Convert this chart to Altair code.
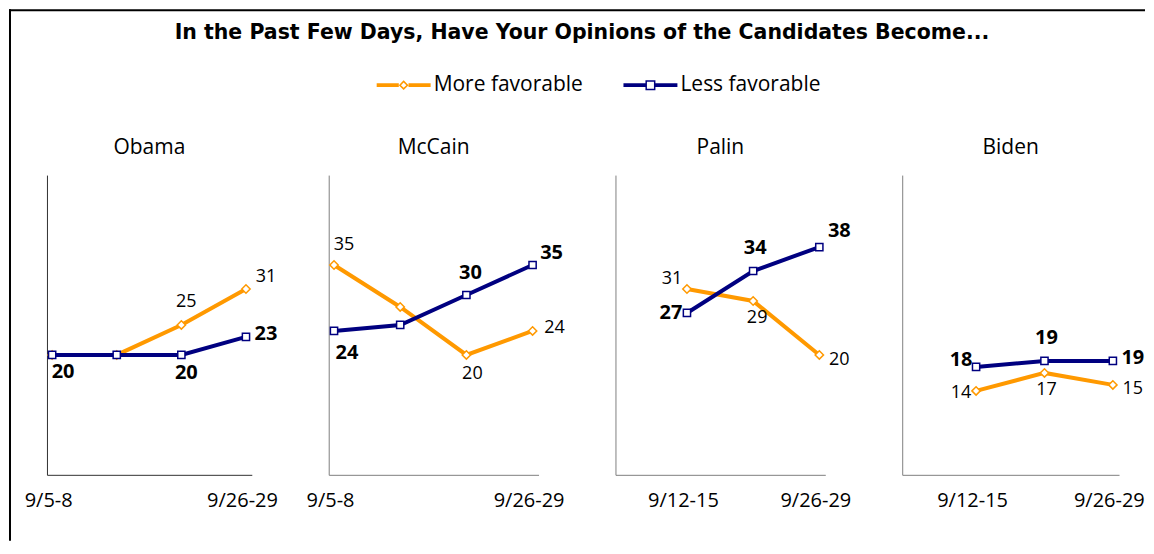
import altair as alt
import pandas as pd

# ---------------- data ----------------
candidates = ["Obama", "McCain", "Palin", "Biden"]
series_names = ["More favorable", "Less favorable"]
periods = [0, 1, 2, 3]
period_labels = {0: "9/5-8", 1: "9/12-15", 3: "9/26-29"}
labelled_ticks = {"Obama": [0, 3], "McCain": [0, 3], "Palin": [1, 3], "Biden": [1, 3]}

more_favorable = {
    "Obama": [20, 20, 25, 31],
    "McCain": [35, 28, 20, 24],
    "Palin": [None, 31, 29, 20],
    "Biden": [None, 14, 17, 15],
}
less_favorable = {
    "Obama": [20, 20, 20, 23],
    "McCain": [24, 25, 30, 35],
    "Palin": [None, 27, 34, 38],
    "Biden": [None, 18, 19, 19],
}

# ---------------- style ----------------
ORANGE = "#FF9900"
NAVY = "#000080"
FONT = "Open Sans"
PANEL_WIDTHS = {"Obama": 205, "McCain": 210, "Palin": 210, "Biden": 217}

# pixel offsets of the value labels (absent -> no label)
LABEL_OFFSETS = {
    ("Obama", "Less favorable", 0): (11, 17),
    ("Obama", "Less favorable", 2): (5, 18),
    ("Obama", "Less favorable", 3): (20, -3),
    ("Obama", "More favorable", 2): (5, -23),
    ("Obama", "More favorable", 3): (20, -12),
    ("McCain", "More favorable", 0): (10, -20),
    ("McCain", "More favorable", 2): (6, 19),
    ("McCain", "More favorable", 3): (22, -3),
    ("McCain", "Less favorable", 0): (13, 22),
    ("McCain", "Less favorable", 2): (4, -22),
    ("McCain", "Less favorable", 3): (19, -12),
    ("Palin", "More favorable", 1): (-15, -10),
    ("Palin", "More favorable", 2): (4, 17),
    ("Palin", "More favorable", 3): (20, 5),
    ("Palin", "Less favorable", 1): (-16, 0),
    ("Palin", "Less favorable", 2): (2, -23),
    ("Palin", "Less favorable", 3): (20, -16),
    ("Biden", "Less favorable", 1): (-15, -7),
    ("Biden", "Less favorable", 2): (2, -23),
    ("Biden", "Less favorable", 3): (20, -3),
    ("Biden", "More favorable", 1): (-15, 2),
    ("Biden", "More favorable", 2): (2, 17),
    ("Biden", "More favorable", 3): (20, 4),
}

rows = []
for cand in candidates:
    for sname, table in (("More favorable", more_favorable), ("Less favorable", less_favorable)):
        for p, v in zip(periods, table[cand]):
            if v is None:
                continue
            off = LABEL_OFFSETS.get((cand, sname, p))
            rows.append({
                "candidate": cand, "series": sname, "period": p, "value": v,
                "label": str(v) if off else "",
                "dx": off[0] if off else 0, "dy": off[1] if off else 0,
            })
df = pd.DataFrame(rows)

label_expr = " : ".join(
    f"datum.value == {k} ? '{v}'" for k, v in period_labels.items()
) + " : ''"

SERIES_STYLE = {
    "More favorable": dict(color=ORANGE, shape="diamond", size=70, fsize=18, fweight="normal"),
    "Less favorable": dict(color=NAVY, shape="square", size=52, fsize=20, fweight="bold"),
}


def make_panel(cand):
    d = df[df["candidate"] == cand]
    axis_col = "#303030" if cand == "Obama" else "#808080"
    base = alt.Chart(d).encode(
        x=alt.X("period:Q",
                scale=alt.Scale(domain=[-0.08, 3.09], nice=False, zero=False),
                axis=alt.Axis(values=labelled_ticks[cand], labelExpr=label_expr, title=None,
                              grid=False, ticks=False, tickSize=0, domainColor=axis_col,
                              labelPadding=32, labelBaseline="alphabetic", labelFlush=False,
                              labelOverlap=False, labelFont=FONT, labelFontSize=20,
                              labelColor="black", labelOffset=-4)),
        y=alt.Y("value:Q",
                scale=alt.Scale(domain=[0, 50], nice=False, zero=False),
                axis=alt.Axis(labels=False, ticks=False, tickSize=0, grid=False, title=None,
                              domainColor=axis_col)),
    )
    layers = []
    for s in series_names:
        st = SERIES_STYLE[s]
        sub = base.transform_filter(alt.datum.series == s)
        layers.append(sub.mark_line(color=st["color"], strokeWidth=4))
        layers.append(sub.mark_point(shape=st["shape"], filled=True, fill="white",
                                     stroke=st["color"], strokeWidth=1.5, size=st["size"],
                                     opacity=1))
    for s in series_names:
        st = SERIES_STYLE[s]
        sub = base.transform_filter((alt.datum.series == s) & (alt.datum.label != ""))
        layers.append(sub.mark_text(font=FONT, fontSize=st["fsize"], fontWeight=st["fweight"],
                                    color="black", align="center", baseline="middle",
                                    dx={"expr": "datum.dx"}, dy={"expr": "datum.dy"}).encode(
            text="label:N",
        ))
    return alt.layer(*layers).properties(
        width=PANEL_WIDTHS[cand], height=300,
        title=alt.TitleParams(cand, font=FONT, fontSize=21, fontWeight="normal", color="black",
                              anchor="middle", frame="group", offset=0, baseline="alphabetic"),
    )


# legend symbols: line with a hollow marker
PATH_MORE = ("M-1,-0.07L-0.18,-0.07L-0.18,0.07L-1,0.07Z "
             "M0.18,-0.07L1,-0.07L1,0.07L0.18,0.07Z "
             "M0,-0.18L0.18,0L0,0.18L-0.18,0Z M0,-0.1L-0.1,0L0,0.1L0.1,0Z")
PATH_LESS = ("M-1,-0.07L-0.185,-0.07L-0.185,0.07L-1,0.07Z "
             "M0.185,-0.07L1,-0.07L1,0.07L0.185,0.07Z "
             "M-0.185,-0.185L0.185,-0.185L0.185,0.185L-0.185,0.185Z "
             "M-0.13,-0.13L-0.13,0.13L0.13,0.13L0.13,-0.13Z")

legend_params = dict(title=None, orient="none", legendX=331, legendY=-117,
                     direction="horizontal", symbolSize=2916, symbolStrokeWidth=0,
                     symbolOpacity=1, labelFont=FONT, labelFontSize=21, labelColor="black",
                     labelOffset=3, columnPadding=40, padding=0, labelLimit=400)

frame_df = pd.DataFrame({"k": [0]})
top_rule = alt.Chart(frame_df).mark_rule(color="black", strokeWidth=2).encode(
    x=alt.value(-37), x2=alt.value(1100), y=alt.value(-165))
left_rule = alt.Chart(frame_df).mark_rule(color="black", strokeWidth=2).encode(
    x=alt.value(-36), y=alt.value(-166), y2=alt.value(366))
legend_layer = alt.Chart(pd.DataFrame({"series": series_names})).transform_filter(
    "false").mark_point(filled=True, opacity=1).encode(
    color=alt.Color("series:N", scale=alt.Scale(domain=series_names, range=[ORANGE, NAVY]),
                    legend=alt.Legend(**legend_params)),
    shape=alt.Shape("series:N", scale=alt.Scale(domain=series_names, range=[PATH_MORE, PATH_LESS]),
                    legend=alt.Legend(**legend_params)),
)
frame_cell = alt.layer(top_rule, left_rule, legend_layer).properties(width=1, height=300)

panels = alt.hconcat(*[make_panel(c) for c in candidates], spacing=77, bounds="flush")

chart = alt.hconcat(frame_cell, panels, spacing=0, bounds="flush").properties(
    title=alt.TitleParams("In the Past Few Days, Have Your Opinions of  the Candidates Become...",
                          font="DejaVu Sans", fontSize=20.5, fontWeight="bold", color="black",
                          anchor="middle", offset=-51, baseline="alphabetic", dx=5),
    padding=0,
    background="white",
).configure_view(stroke=None)

chart.save("out.html", embed_options={"renderer": "svg", "actions": False})
